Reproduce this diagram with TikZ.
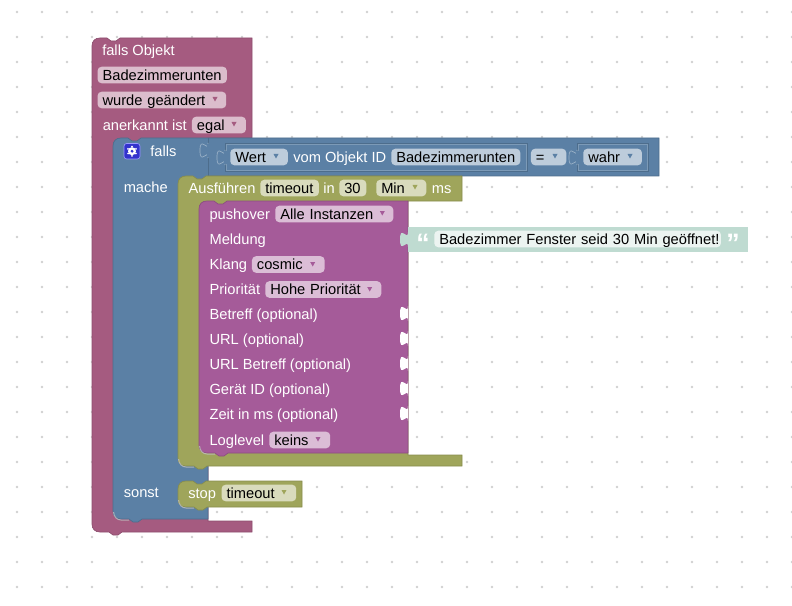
\documentclass[tikz,border=0pt]{standalone}
\usepackage{fontspec}
\setmainfont{Liberation Sans}
\usetikzlibrary{positioning}
\definecolor{pinkblock}{HTML}{A55B80}
\definecolor{pinkfield}{HTML}{DBBDCC}
\definecolor{blueblock}{HTML}{5B80A5}
\definecolor{bluefield}{HTML}{BDCCDB}
\definecolor{greenblock}{HTML}{9FA55B}
\definecolor{greenfield}{HTML}{D9DBBD}
\definecolor{purpleblock}{HTML}{A55B99}
\definecolor{purplefield}{HTML}{DBBDD6}
\definecolor{textblock}{HTML}{BFDBD1}
\definecolor{textfield}{HTML}{ECF4F1}
\definecolor{griddot}{HTML}{D0D0D0}
\definecolor{gearblue}{HTML}{3333CC}
\newcommand{\notchright}{-- ++(3,0) -- ++(4,3) -- ++(5,0) -- ++(4,-3)}
\newcommand{\notchleft}{-- ++(-3,0) -- ++(-4,3) -- ++(-5,0) -- ++(-4,-3)}
\tikzset{
    blocklabel/.style={anchor=west, text=white, inner xsep=0pt, inner ysep=0pt, text height=10.2pt, text depth=2.2pt,
        font=\fontsize{11pt}{13pt}\selectfont},
    fieldbox/.style={anchor=west, text=black, rounded corners=3pt, inner xsep=3.75pt, inner ysep=0pt,
        minimum height=12.4pt, text height=10.2pt, text depth=2.2pt, align=left, font=\fontsize{11pt}{13pt}\selectfont},
    quotemark/.style={anchor=west, text=white, inner sep=0pt, font=\fontsize{20pt}{20pt}\selectfont\bfseries},
    hilite/.style={white!75!black, line width=0.75pt, opacity=0.8},
    puzzletab/.pic={\path[pic actions] (0,0) .. controls (0,10) and (-8,-8) .. (-8,7.5) .. controls (-8,23) and (0,5) .. (0,15) -- cycle;},
    dropmark/.pic={\fill[pic actions] (-2.5,-2) -- (2.5,-2) -- (0,2.5) -- cycle;}
}
\begin{document}
\begin{tikzpicture}[x=0.75pt, y=-0.75pt]
    \useasboundingbox (0,0) rectangle (792,606);

    % Grid dots
    \foreach \dotx in {17,42,...,792}
        \foreach \doty in {12,37,...,606}
            \fill[griddot] (\dotx,\doty) circle (1.3);

    % Outer block
    \draw[fill=pinkblock, draw=pinkblock!85!black, line width=0.5pt]
        (100,38) -- (104,38) \notchright -- (252,38) -- (252,138) -- (208,138) -- (208,521) -- (252,521) -- (252,532)
        -- (125,532) \notchleft -- (100,532) .. controls (95,532) and (92,529) .. (92,524)
        -- (92,46) .. controls (92,41) and (95,38) .. cycle;
    \node[blocklabel] (fallsobjekt) at (102,50) {falls Objekt};
    \node[fieldbox, fill=pinkfield, text width=89.5pt] (objektid) at (97.3,75) {Badezimmerunten};
    \node[fieldbox, fill=pinkfield, text width=89pt] (geaendert) at (97.3,100) {wurde geändert};
    \path (215,99) pic[fill=pinkblock] {dropmark};
    \node[blocklabel] (anerkannt) at (102.5,125) {anerkannt ist};
    \node[fieldbox, fill=pinkfield, text width=33pt] (egal) at (191.7,125) {egal};
    \path (234,124) pic[fill=pinkblock] {dropmark};

    % Falls block
    \draw[fill=blueblock, draw=blueblock!85!black, line width=0.5pt]
        (121,138) -- (125,138) \notchright -- (659,138) -- (659,176) -- (208,176) -- (208,519) -- (145,519) \notchleft
        -- (121,519) .. controls (116,519) and (113,516) .. (113,511)
        -- (113,146) .. controls (113,141) and (116,138) .. cycle;
    \draw[hilite] (113.5,512) .. controls (114,517) and (117,520) .. (121,520) -- (129,520);
    \draw[blueblock!85!black, line width=0.5pt] (208,138) -- (208,176);
    \path (208,143) pic[fill=blueblock, draw=blueblock!60!white, line width=0.5pt] {puzzletab};
    \draw[blueblock, line width=1pt] (208,144) -- (208,157);
    \draw[blueblock!85!black, line width=0.5pt] (225,143) rectangle (527,171);
    \draw[blueblock!80!white, line width=0.5pt] (226,144) rectangle (526,170);
    \draw[blueblock!85!black, line width=0.5pt] (577,143) rectangle (648,171);
    \draw[blueblock!80!white, line width=0.5pt] (578,144) rectangle (647,170);
    \path (225,150) pic[fill=blueblock, draw=blueblock!60!white, line width=0.5pt] {puzzletab};
    \path (577,150) pic[fill=blueblock, draw=blueblock!60!white, line width=0.5pt] {puzzletab};
    \draw[blueblock, line width=2pt] (225.5,151) -- (225.5,164);
    \draw[blueblock, line width=2pt] (577.5,151) -- (577.5,164);
    \draw[fill=gearblue, draw=blue!40!white, rounded corners=2pt, line width=0.5pt] (124,143.5) rectangle (140,159);
    \fill[white, even odd rule] (132,151.2) circle (4) (132,151.2) circle (1.8);
    \foreach \gearangle in {30,90,...,330}
        \fill[white] (132,151.2) ++(\gearangle:4.6) circle (1);
    \node[blocklabel] (falls) at (150,151) {falls};
    \node[fieldbox, fill=bluefield, text width=35.7pt] (wert) at (230,157) {Wert};
    \path (276,156) pic[fill=blueblock] {dropmark};
    \node[blocklabel] (vomobjekt) at (293,157) {vom Objekt ID};
    \node[fieldbox, fill=bluefield, text width=89.3pt] (objektidzwei) at (391,157) {Badezimmerunten};
    \node[fieldbox, fill=bluefield, text width=19pt] (gleich) at (530.7,157) {=};
    \path (555,156) pic[fill=blueblock] {dropmark};
    \node[fieldbox, fill=bluefield, text width=36.5pt] (wahr) at (583,157) {wahr};
    \path (630,156) pic[fill=blueblock] {dropmark};
    \node[blocklabel] (mache) at (123.5,187) {mache};
    \node[blocklabel] (sonst) at (123.5,492) {sonst};

    % Ausfuehren block
    \draw[fill=greenblock, draw=greenblock!85!black, line width=0.5pt]
        (186,176) -- (190,176) \notchright -- (462,176) -- (462,201) -- (408,201) -- (408,455) -- (462,455) -- (462,466)
        -- (210,466) \notchleft -- (186,466) .. controls (181,466) and (178,463) .. (178,458)
        -- (178,184) .. controls (178,179) and (181,176) .. cycle;
    \draw[hilite] (178.5,459) .. controls (179,464) and (182,467) .. (186,467) -- (194,467);
    \node[blocklabel] (ausfuehren) at (188.3,188) {Ausführen};
    \node[fieldbox, fill=greenfield, text width=36.5pt] (timeoutvar) at (260,188) {timeout};
    \node[blocklabel] (inlabel) at (323,188) {in};
    \node[fieldbox, fill=greenfield, text width=12.8pt] (dauer) at (339,188) {30};
    \node[fieldbox, fill=greenfield, text width=30pt] (minuten) at (376,188) {Min};
    \path (415,187) pic[fill=greenblock] {dropmark};
    \node[blocklabel] (mslabel) at (431.7,188) {ms};

    % Pushover block
    \draw[fill=purpleblock, draw=purpleblock!85!black, line width=0.5pt]
        (207,201) -- (211,201) \notchright -- (408,201) -- (408,453) -- (231,453) \notchleft
        -- (207,453) .. controls (202,453) and (199,450) .. (199,445)
        -- (199,209) .. controls (199,204) and (202,201) .. cycle;
    \draw[hilite] (199.5,446) .. controls (200,451) and (203,454) .. (207,454) -- (215,454);
    \foreach \sockety in {306,331,356,381,406}
        \path (408,\sockety) pic[fill=white] {puzzletab};
    \node[blocklabel] (pushover) at (209.3,214) {pushover};
    \node[fieldbox, fill=purplefield, text width=81pt] (instanzen) at (275,214) {Alle Instanzen};
    \path (382.3,213) pic[fill=purpleblock] {dropmark};
    \node[blocklabel] (meldung) at (209.3,239) {Meldung};
    \node[blocklabel] (klang) at (209.3,264.5) {Klang};
    \node[fieldbox, fill=purplefield, text width=47pt] (cosmic) at (251.7,264.5) {cosmic};
    \path (312.7,264) pic[fill=purpleblock] {dropmark};
    \node[blocklabel] (prioritaet) at (209.3,289.5) {Priorität};
    \node[fieldbox, fill=purplefield, text width=79.5pt] (hohe) at (265,289.5) {Hohe Priorität};
    \path (369.7,289) pic[fill=purpleblock] {dropmark};
    \node[blocklabel] (betreff) at (209.3,314.5) {Betreff (optional)};
    \node[blocklabel] (url) at (209.3,339.5) {URL (optional)};
    \node[blocklabel] (urlbetreff) at (209.3,364.5) {URL Betreff (optional)};
    \node[blocklabel] (geraet) at (209.3,389.5) {Gerät ID (optional)};
    \node[blocklabel] (zeit) at (209.3,414.5) {Zeit in ms (optional)};
    \node[blocklabel] (loglevel) at (209.3,440) {Loglevel};
    \node[fieldbox, fill=purplefield, text width=38.2pt] (keins) at (269,440) {keins};
    \path (318,439) pic[fill=purpleblock] {dropmark};

    % Text block
    \fill[textblock] (408,227) rectangle (748,252);
    \path (408,232) pic[fill=textblock] {puzzletab};
    \node[quotemark] (quoteleft) at (416,243) {“};
    \node[fieldbox, fill=textfield, text width=207.5pt] (meldetext) at (434,239) {\mbox{Badezimmer Fenster seid 30 Min geöffnet!}};
    \node[quotemark] (quoteright) at (726,243) {”};

    % Stop block
    \draw[fill=greenblock, draw=greenblock!85!black, line width=0.5pt]
        (186,481) -- (190,481) \notchright -- (302,481) -- (302,507) -- (210,507) \notchleft
        -- (186,507) .. controls (181,507) and (178,504) .. (178,499)
        -- (178,489) .. controls (178,484) and (181,481) .. cycle;
    \draw[hilite] (178.5,500) .. controls (179,505) and (182,508) .. (186,508) -- (194,508);
    \node[blocklabel] (stoplabel) at (188,493) {stop};
    \node[fieldbox, fill=greenfield, text width=48.5pt] (timeoutstop) at (221.3,493) {timeout};
    \path (284,492) pic[fill=greenblock] {dropmark};
\end{tikzpicture}
\end{document}
